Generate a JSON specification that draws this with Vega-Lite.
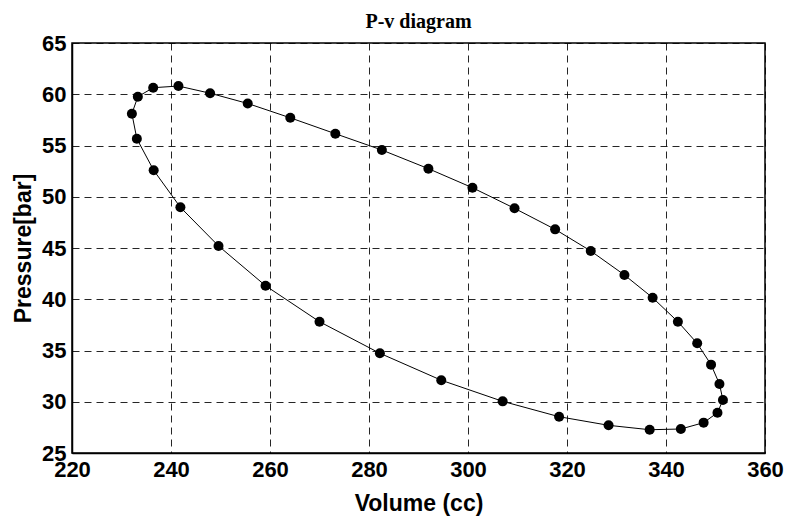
{
  "$schema": "https://vega.github.io/schema/vega-lite/v6.json",
  "width": 693,
  "height": 410,
  "autosize": "none",
  "padding": {"left": 72, "top": 43, "right": 20, "bottom": 64},
  "background": "white",
  "title": {"text": "P-v diagram", "font": "Liberation Serif", "fontSize": 20, "fontWeight": "bold", "color": "black", "offset": 0, "dy": 0, "anchor": "middle"},
  "config": {
    "view": {"stroke": "black", "strokeWidth": 1.5},
    "axis": {
      "labelFont": "Liberation Sans", "labelFontSize": 22, "labelFontWeight": "bold", "labelColor": "black",
      "titleFont": "Liberation Sans", "titleFontSize": 23, "titleFontWeight": "bold", "titleColor": "black",
      "ticks": false, "domainColor": "black", "domainWidth": 1.5,
      "grid": true, "gridColor": "black", "gridOpacity": 0.85, "gridDash": [7, 5], "gridWidth": 1,
      "labelOverlap": false, "labelFlush": false
    }
  },
  "data": {"values": [
    {"i": 0, "v": 241.5, "p": 60.8},
    {"i": 1, "v": 247.9, "p": 60.1},
    {"i": 2, "v": 255.5, "p": 59.1},
    {"i": 3, "v": 264.1, "p": 57.7},
    {"i": 4, "v": 273.2, "p": 56.15},
    {"i": 5, "v": 282.6, "p": 54.56},
    {"i": 6, "v": 292.0, "p": 52.74},
    {"i": 7, "v": 300.9, "p": 50.88},
    {"i": 8, "v": 309.4, "p": 48.87},
    {"i": 9, "v": 317.6, "p": 46.82},
    {"i": 10, "v": 324.8, "p": 44.71},
    {"i": 11, "v": 331.6, "p": 42.37},
    {"i": 12, "v": 337.3, "p": 40.15},
    {"i": 13, "v": 342.4, "p": 37.81},
    {"i": 14, "v": 346.3, "p": 35.7},
    {"i": 15, "v": 349.1, "p": 33.62},
    {"i": 16, "v": 350.8, "p": 31.73},
    {"i": 17, "v": 351.5, "p": 30.17},
    {"i": 18, "v": 350.4, "p": 28.93},
    {"i": 19, "v": 347.6, "p": 27.96},
    {"i": 20, "v": 343.0, "p": 27.34},
    {"i": 21, "v": 336.7, "p": 27.27},
    {"i": 22, "v": 328.4, "p": 27.7},
    {"i": 23, "v": 318.4, "p": 28.54},
    {"i": 24, "v": 307.0, "p": 30.04},
    {"i": 25, "v": 294.6, "p": 32.1},
    {"i": 26, "v": 282.2, "p": 34.73},
    {"i": 27, "v": 270.0, "p": 37.81},
    {"i": 28, "v": 259.1, "p": 41.32},
    {"i": 29, "v": 249.6, "p": 45.2},
    {"i": 30, "v": 241.9, "p": 48.97},
    {"i": 31, "v": 236.5, "p": 52.58},
    {"i": 32, "v": 233.1, "p": 55.66},
    {"i": 33, "v": 232.1, "p": 58.1},
    {"i": 34, "v": 233.3, "p": 59.76},
    {"i": 35, "v": 236.4, "p": 60.64}
  ]},
  "encoding": {
    "x": {"field": "v", "type": "quantitative", "title": "Volume (cc)",
      "scale": {"domain": [220, 360], "nice": false, "zero": false},
      "axis": {"values": [220, 240, 260, 280, 300, 320, 340, 360], "labelPadding": 6, "titlePadding": 12}},
    "y": {"field": "p", "type": "quantitative", "title": "Pressure[bar]",
      "scale": {"domain": [25, 65], "nice": false, "zero": false},
      "axis": {"values": [25, 30, 35, 40, 45, 50, 55, 60, 65], "labelPadding": 6, "titlePadding": 6}},
    "order": {"field": "i", "type": "quantitative"}
  },
  "layer": [
    {"mark": {"type": "line", "color": "black", "strokeWidth": 1, "interpolate": "linear-closed"}},
    {"mark": {"type": "point", "filled": true, "color": "black", "opacity": 1, "size": 100}}
  ]
}
